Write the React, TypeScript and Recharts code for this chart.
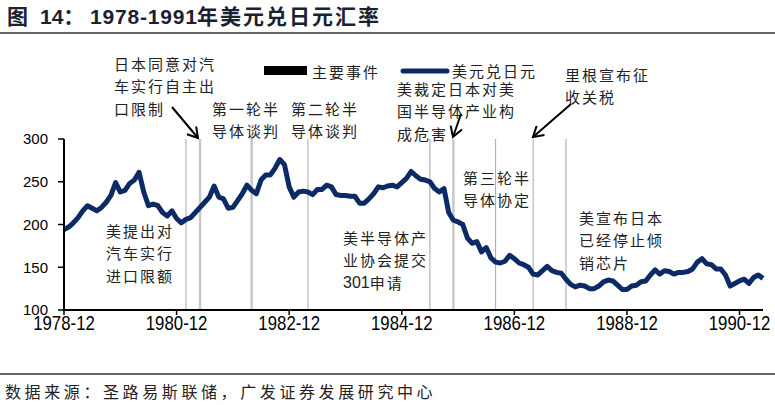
import React from 'react';
import { LineChart, Line, XAxis, YAxis, ReferenceLine } from 'recharts';

// Monthly USD/JPY, 1978-12 .. 1991-05
const rates: number[] = [
  194, // 1978-12
  197, 202, 208, 216, 222, 219, 216, 220, 226, 234, 249, 238, // 1979
  240, 248, 252, 261, 238, 222, 224, 222, 214, 210, 216, 207, // 1980
  202, 206, 208, 214, 220, 226, 232, 245, 232, 230, 219, 220, // 1981
  228, 236, 246, 240, 236, 252, 258, 258, 266, 276, 270, 244, // 1982
  232, 238, 239, 238, 235, 241, 241, 246, 244, 235, 234, 234, // 1983
  233, 233, 225, 225, 230, 236, 244, 243, 245, 246, 244, 249, // 1984
  254, 262, 257, 253, 252, 250, 242, 238, 242, 214, 205, 203, // 1985
  200, 184, 178, 180, 168, 173, 161, 156, 155, 157, 164, 160, // 1986
  155, 153, 150, 142, 141, 146, 151, 146, 144, 143, 136, 130, // 1987
  127, 129, 128, 125, 125, 128, 133, 135, 134, 129, 124, 124, // 1988
  128, 129, 133, 134, 141, 147, 142, 146, 145, 142, 144, 144, // 1989
  145, 148, 156, 160, 154, 153, 148, 148, 141, 128, 131, 134, // 1990
  136, 131, 138, 141, 137, // 1991-01 .. 1991-05
];

const startYear = 1978;
const startMonth = 12;
const dates: string[] = rates.map((_, i) => {
  const m0 = startMonth - 1 + i;
  const y = startYear + Math.floor(m0 / 12);
  const m = (m0 % 12) + 1;
  return `${y}-${m < 10 ? '0' + m : m}`;
});

const xTickLabels: string[] = ['1978-12', '1980-12', '1982-12', '1984-12', '1986-12', '1988-12', '1990-12'];
const yTicks: number[] = [100, 150, 200, 250, 300];

const eventDates: string[] = ['1981-02', '1981-05', '1982-04', '1983-04', '1985-06', '1985-11', '1986-08', '1987-04', '1987-11'];
const eventHeavy: boolean[] = [false, true, true, false, false, true, false, false, false];

const seriesName = '美元兑日元';
const eventName = '主要事件';

const data = rates.map((r, i) => ({ t: i, date: dates[i], rate: r }));
const xTicks = xTickLabels.map((d) => dates.indexOf(d));

const NAVY = '#0b2a66';
const cjk = "'Noto Sans CJK SC', 'Noto Sans', sans-serif";
const latin = "'Liberation Sans', Arial, sans-serif";

const XTick = (props: any) => {
  const { x, y, payload } = props;
  return (
    <g transform={`translate(${x},${y + 13})`}>
      <text
        x={0}
        y={0}
        textAnchor="middle"
        transform="scale(0.82,1)"
        style={{ fontFamily: latin }}
        fontSize={20.5}
        fill="#000"
      >
        {dates[payload.value]}
      </text>
    </g>
  );
};

const annotations: { x: number; y: number; lines: string[] }[] = [
  { x: 114, y: 63, lines: ['日本同意对汽', '车实行自主出', '口限制'] },
  { x: 212, y: 108, lines: ['第一轮半', '导体谈判'] },
  { x: 291, y: 108, lines: ['第二轮半', '导体谈判'] },
  { x: 397, y: 88, lines: ['美裁定日本对美', '国半导体产业构', '成危害'] },
  { x: 565, y: 74, lines: ['里根宣布征', '收关税'] },
  { x: 106, y: 230, lines: ['美提出对', '汽车实行', '进口限额'] },
  { x: 343, y: 237, lines: ['美半导体产', '业协会提交', '301申请'] },
  { x: 463, y: 177, lines: ['第三轮半', '导体协定'] },
  { x: 579, y: 217, lines: ['美宣布日本', '已经停止倾', '销芯片'] },
];

const renderLine = (ln: string) => {
  const m = ln.match(/^(\d+)(.*)$/);
  if (!m) return ln;
  return (
    <>
      <tspan letterSpacing={0} style={{ fontFamily: latin }} fontSize={16}>{m[1]}</tspan>
      <tspan>{m[2]}</tspan>
    </>
  );
};

export default function App() {
  return (
    <div style={{ position: 'absolute', left: 0, top: 0, width: 775, height: 405, background: '#fff' }}>
      <LineChart
        width={775}
        height={405}
        data={data}
        margin={{ top: 139, right: 12, bottom: 65, left: 20 }}
      >
        <XAxis
          dataKey="t"
          type="number"
          domain={[0, rates.length - 1]}
          ticks={xTicks}
          interval={0}
          height={30}
          axisLine={{ stroke: '#000', strokeWidth: 2 }}
          tickLine={{ stroke: '#000', strokeWidth: 1.5 }}
          tickSize={5}
          tick={<XTick />}
        />
        <YAxis
          domain={[100, 300]}
          ticks={yTicks}
          interval={0}
          width={44}
          axisLine={{ stroke: '#000', strokeWidth: 2 }}
          tickLine={{ stroke: '#000', strokeWidth: 1.5 }}
          tickSize={6}
          tickMargin={10}
          tick={{ fill: '#000', fontSize: 15, fontFamily: latin }}
        />
        {eventDates.map((d, i) => (
          <ReferenceLine
            key={d}
            x={dates.indexOf(d)}
            stroke={eventHeavy[i] ? '#c8c8c8' : '#a8a8a8'}
            strokeWidth={eventHeavy[i] ? 2.5 : 1}
          />
        ))}
        <Line
          type="linear"
          dataKey="rate"
          name={seriesName}
          stroke={NAVY}
          strokeWidth={5}
          strokeLinejoin="round"
          dot={false}
          activeDot={false}
          isAnimationActive={false}
        />
      </LineChart>

      <svg
        width={775}
        height={405}
        style={{ position: 'absolute', left: 0, top: 0, pointerEvents: 'none' }}
      >
        <defs>
          <marker id="arr" markerWidth={14} markerHeight={14} refX={11} refY={7} orient="auto" markerUnits="userSpaceOnUse">
            <path d="M1,1 L11,7 L1,13" fill="none" stroke="#000" strokeWidth={2} />
          </marker>
        </defs>

        {/* title */}
        <text y={24} fontWeight="bold" fontSize={21} fill="#1a2232">
          <tspan x={7} style={{ fontFamily: cjk }}>图</tspan>
          <tspan x={40} style={{ fontFamily: latin }}>14</tspan>
          <tspan style={{ fontFamily: cjk }}>：</tspan>
          <tspan x={90} letterSpacing={0.8} style={{ fontFamily: latin }}>1978-1991</tspan>
          <tspan x={197} letterSpacing={2} style={{ fontFamily: cjk }}>年美元兑日元汇率</tspan>
        </text>
        <line x1={0} x2={775} y1={33} y2={33} stroke="#333" strokeWidth={1.5} />

        {/* legend */}
        <rect x={264} y={66} width={43} height={9} fill="#000" />
        <text x={312} y={71} dominantBaseline="central" fontFamily={cjk} fontSize={15} letterSpacing={2} fill="#222">
          {eventName}
        </text>
        <line x1={403} x2={447} y1={71} y2={71} stroke={NAVY} strokeWidth={5} strokeLinecap="round" />
        <text x={452} y={70} dominantBaseline="central" fontFamily={cjk} fontSize={15} letterSpacing={2} fill="#222">
          {seriesName}
        </text>

        {/* annotations */}
        {annotations.map((a, i) => (
          <g key={i}>
            {a.lines.map((ln, j) => (
              <text
                key={j}
                x={a.x}
                y={a.y + j * 22.5}
                dominantBaseline="central"
                fontFamily={cjk}
                fontSize={15}
                letterSpacing={2}
                fill="#222"
              >
                {renderLine(ln)}
              </text>
            ))}
          </g>
        ))}

        {/* arrows */}
        <line x1={172} y1={107} x2={198} y2={138} stroke="#000" strokeWidth={2} markerEnd="url(#arr)" />
        <line x1={461} y1={114} x2={453} y2={137} stroke="#000" strokeWidth={2} markerEnd="url(#arr)" />
        <line x1={571} y1={104} x2={533} y2={137} stroke="#000" strokeWidth={2} markerEnd="url(#arr)" />

        {/* footer */}
        <line x1={0} x2={775} y1={374} y2={374} stroke="#333" strokeWidth={1.5} />
        <text x={5} y={391} dominantBaseline="central" fontFamily={cjk} fontSize={16} letterSpacing={3.6} fill="#222">
          数据来源：圣路易斯联储，广发证券发展研究中心
        </text>
      </svg>
    </div>
  );
}
